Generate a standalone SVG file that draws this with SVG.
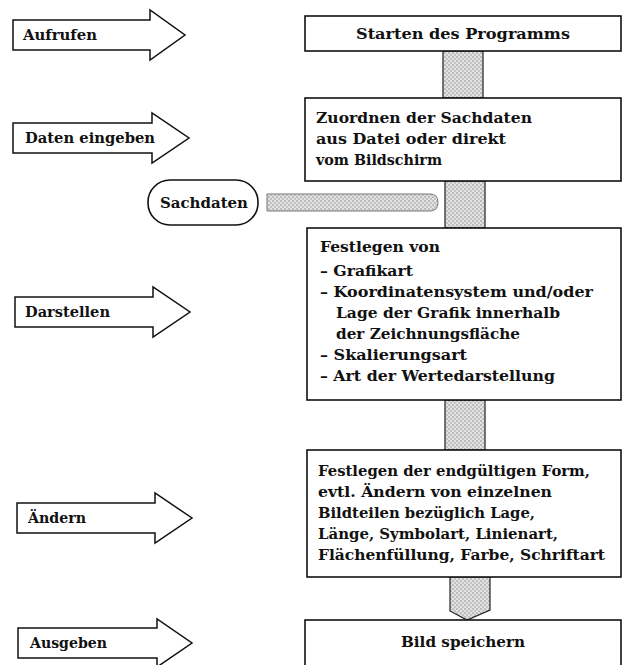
<svg xmlns="http://www.w3.org/2000/svg" width="623" height="665" viewBox="0 0 623 665">
  <defs>
    <!-- stippled fill used by the flow connectors -->
    <pattern id="stipple" width="4" height="4" patternUnits="userSpaceOnUse">
      <rect width="4" height="4" fill="#e2e2e2"/>
      <circle cx="1" cy="1" r="0.8" fill="#8c8c8c"/>
      <circle cx="3" cy="3" r="0.8" fill="#9a9a9a"/>
    </pattern>
  </defs>
  <style>
    .box { fill: #fff; stroke: #111; stroke-width: 1.6; }
    .act { fill: #fff; stroke: #111; stroke-width: 1.5; stroke-linejoin: miter; }
    .flow { fill: url(#stipple); stroke: #222; stroke-width: 1.2; }
    .feed { fill: url(#stipple); stroke: #777; stroke-width: 1; }
    text { font-family: "DejaVu Serif", "Liberation Serif", serif; font-weight: bold; font-size: 15.5px; fill: #111; }
    .lbl { font-size: 14.5px; }
    .c { text-anchor: middle; }
  </style>
  <rect width="623" height="665" fill="#fff"/>

  <!-- connectors between the steps -->
  <g id="connectors">
    <rect class="flow" x="443" y="51" width="40" height="47"/>
    <rect class="flow" x="445" y="181" width="40" height="47"/>
    <path class="feed" d="M267,194 H430 Q438,194 438,202.5 Q438,211 430,211 H267 Z"/>
    <rect class="flow" x="445" y="400" width="40" height="50"/>
    <path class="flow" d="M450,577 H490 V610 L467,620 L450,611 Z"/>
  </g>

  <!-- action arrows on the left -->
  <g id="arrow-aufrufen">
    <polygon class="act" points="13,20 150,20 150,10 185,35 150,60 150,50 13,50"/>
    <text class="lbl" x="23" y="40" textLength="74" lengthAdjust="spacingAndGlyphs">Aufrufen</text>
  </g>
  <g id="arrow-daten-eingeben">
    <polygon class="act" points="13,123 152,123 152,113 189,138 152,163 152,153 13,153"/>
    <text class="lbl" x="25" y="143" textLength="130" lengthAdjust="spacingAndGlyphs">Daten eingeben</text>
  </g>
  <g id="arrow-darstellen">
    <polygon class="act" points="15,297 153,297 153,287 190,312 153,337 153,327 15,327"/>
    <text class="lbl" x="25" y="317" textLength="85" lengthAdjust="spacingAndGlyphs">Darstellen</text>
  </g>
  <g id="arrow-aendern">
    <polygon class="act" points="17,503 155,503 155,493 192,518 155,543 155,533 17,533"/>
    <text class="lbl" x="28" y="523" textLength="58" lengthAdjust="spacingAndGlyphs">Ändern</text>
  </g>
  <g id="arrow-ausgeben">
    <polygon class="act" points="18,628 157,628 157,619 192,643 157,667 157,658 18,658"/>
    <text class="lbl" x="30" y="648" textLength="77" lengthAdjust="spacingAndGlyphs">Ausgeben</text>
  </g>

  <!-- data source -->
  <g id="sachdaten">
    <rect class="box" x="148" y="180" width="110" height="45" rx="22" ry="22"/>
    <text class="lbl" x="160" y="208" textLength="88" lengthAdjust="spacingAndGlyphs">Sachdaten</text>
  </g>

  <!-- process steps -->
  <g id="step-start">
    <rect class="box" x="305" y="16" width="316" height="35"/>
    <text class="c" x="463" y="39" textLength="214" lengthAdjust="spacingAndGlyphs">Starten des Programms</text>
  </g>
  <g id="step-zuordnen">
    <rect class="box" x="305" y="98" width="316" height="83"/>
    <text x="316" y="123" textLength="216" lengthAdjust="spacingAndGlyphs">Zuordnen der Sachdaten</text>
    <text x="316" y="144" textLength="190" lengthAdjust="spacingAndGlyphs">aus Datei oder direkt</text>
    <text x="316" y="165" textLength="126" lengthAdjust="spacingAndGlyphs">vom Bildschirm</text>
  </g>
  <g id="step-festlegen">
    <rect class="box" x="307" y="228" width="314" height="172"/>
    <text x="320" y="252" textLength="120" lengthAdjust="spacingAndGlyphs">Festlegen von</text>
    <text x="320" y="276" textLength="93" lengthAdjust="spacingAndGlyphs">– Grafikart</text>
    <text x="320" y="297" textLength="273" lengthAdjust="spacingAndGlyphs">– Koordinatensystem und/oder</text>
    <text x="336" y="318" textLength="224" lengthAdjust="spacingAndGlyphs">Lage der Grafik innerhalb</text>
    <text x="336" y="339" textLength="184" lengthAdjust="spacingAndGlyphs">der Zeichnungsfläche</text>
    <text x="320" y="360" textLength="147" lengthAdjust="spacingAndGlyphs">– Skalierungsart</text>
    <text x="320" y="381" textLength="235" lengthAdjust="spacingAndGlyphs">– Art der Wertedarstellung</text>
  </g>
  <g id="step-form">
    <rect class="box" x="307" y="450" width="314" height="127"/>
    <text x="318" y="476" textLength="272" lengthAdjust="spacingAndGlyphs">Festlegen der endgültigen Form,</text>
    <text x="318" y="497" textLength="234" lengthAdjust="spacingAndGlyphs">evtl. Ändern von einzelnen</text>
    <text x="318" y="518" textLength="217" lengthAdjust="spacingAndGlyphs">Bildteilen bezüglich Lage,</text>
    <text x="318" y="539" textLength="240" lengthAdjust="spacingAndGlyphs">Länge, Symbolart, Linienart,</text>
    <text x="318" y="560" textLength="287" lengthAdjust="spacingAndGlyphs">Flächenfüllung, Farbe, Schriftart</text>
  </g>
  <g id="step-speichern">
    <rect class="box" x="305" y="620" width="316" height="50"/>
    <text class="c" x="463" y="647" textLength="124" lengthAdjust="spacingAndGlyphs">Bild speichern</text>
  </g>
</svg>
